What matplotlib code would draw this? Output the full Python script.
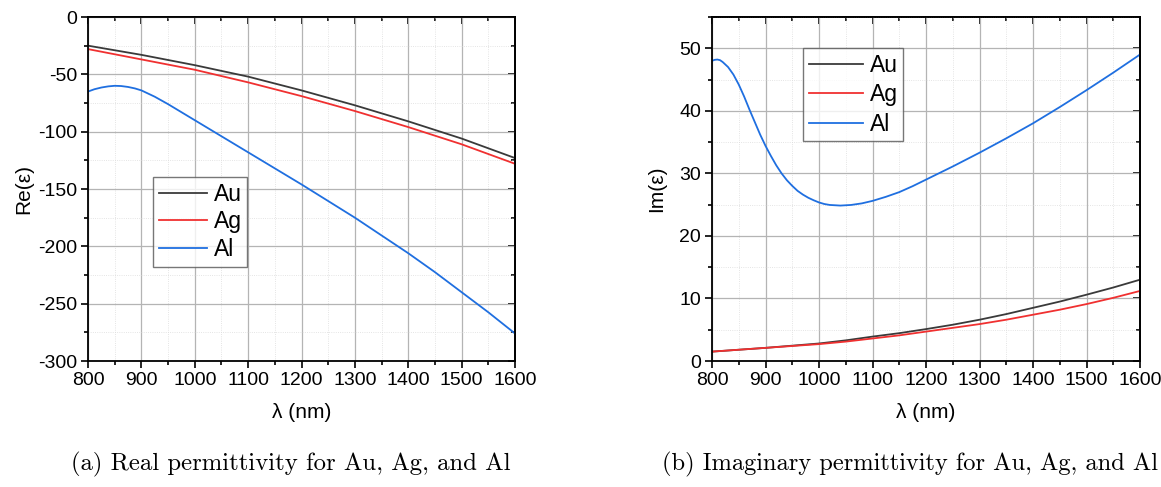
import numpy as np
import matplotlib
matplotlib.use('Agg')
import matplotlib.pyplot as plt
from matplotlib.ticker import MultipleLocator

# wavelengths (nm) and permittivity values
wl_re = [800, 850, 900, 950, 1000, 1050, 1100, 1150, 1200, 1250, 1300, 1350, 1400, 1450, 1500, 1550, 1600]
au_re = [-25, -29, -33, -37.5, -42, -47, -52, -58, -64, -70.5, -77, -84, -91, -98.5, -106, -114.5, -123]
ag_re = [-28, -32.5, -37, -41.5, -46, -51.5, -57, -63, -69, -75.5, -82, -89, -96, -103.5, -111, -119.5, -128]

wl_al_re = [800, 812, 825, 838, 850, 862, 875, 888, 900, 925, 950, 975, 1000, 1050, 1100, 1150, 1200, 1250, 1300,
            1350, 1400, 1450, 1500, 1550, 1600]
al_re = [-65, -63, -61.5, -60.5, -60, -60.2, -61, -62.3, -64, -69.5, -76, -83, -90, -104, -118, -132, -146, -160.5,
         -175, -190.5, -206, -222.5, -240, -257.5, -276]

wl_al_im = [800, 805, 810, 815, 820, 825, 830, 840, 850, 860, 870, 880, 890, 900, 910, 920, 930, 940, 950, 960, 970,
            980, 990, 1000, 1010, 1020, 1040, 1060, 1080, 1100, 1125, 1150, 1175, 1200, 1250, 1300, 1350, 1400, 1450,
            1500, 1550, 1600]
al_im = [48.0, 48.15, 48.2, 48.1, 47.8, 47.4, 47.0, 45.8, 44.2, 42.3, 40.2, 38.2, 36.2, 34.4, 32.8, 31.3, 30.0, 28.9,
         28.0, 27.2, 26.6, 26.1, 25.7, 25.35, 25.1, 24.95, 24.85, 24.95, 25.2, 25.6, 26.25, 27.0, 27.95, 29.0, 31.1,
         33.3, 35.6, 38.0, 40.6, 43.3, 46.1, 49.0]

wl_im = [800, 850, 900, 950, 1000, 1050, 1100, 1150, 1200, 1250, 1300, 1350, 1400, 1450, 1500, 1550, 1600]
au_im = [1.5, 1.8, 2.1, 2.45, 2.8, 3.3, 3.9, 4.45, 5.1, 5.8, 6.6, 7.5, 8.5, 9.5, 10.6, 11.75, 13.0]
ag_im = [1.5, 1.8, 2.1, 2.4, 2.7, 3.1, 3.6, 4.1, 4.7, 5.3, 5.9, 6.6, 7.4, 8.2, 9.1, 10.1, 11.2]

plt.rcParams['font.family'] = ['Liberation Sans', 'DejaVu Sans']
plt.rcParams['axes.unicode_minus'] = False

fig = plt.figure(figsize=(11.61, 4.87), dpi=100)
ax1 = fig.add_axes([88 / 1161, 1 - 361 / 487, 427 / 1161, 344 / 487])
ax2 = fig.add_axes([712 / 1161, 1 - 361 / 487, 428 / 1161, 344 / 487])

c_au, c_ag, c_al = '#3a3a3a', '#f03030', '#1f6fe0'


def style(ax, ymaj, ymin):
    ax.set_xlim(800, 1600)
    ax.xaxis.set_major_locator(MultipleLocator(100))
    ax.xaxis.set_minor_locator(MultipleLocator(50))
    ax.yaxis.set_major_locator(MultipleLocator(ymaj))
    ax.yaxis.set_minor_locator(MultipleLocator(ymin))
    ax.grid(which='major', color='#b4b4b4', lw=0.9)
    ax.grid(which='minor', color='#dcdcdc', lw=0.6, ls=':')
    ax.set_axisbelow(True)
    # outward ticks on bottom/left, inward mirrored ticks on top/right
    ax.tick_params(which='both', direction='out', labelsize=14, width=1.2)
    ax.tick_params(which='major', length=5, pad=3)
    ax.tick_params(which='minor', length=3)
    sx = ax.secondary_xaxis('top')
    sx.xaxis.set_major_locator(MultipleLocator(100))
    sx.xaxis.set_minor_locator(MultipleLocator(50))
    sx.tick_params(which='both', direction='in', labeltop=False, width=1.2)
    sx.tick_params(which='major', length=5)
    sx.tick_params(which='minor', length=3)
    sy = ax.secondary_yaxis('right')
    sy.yaxis.set_major_locator(MultipleLocator(ymaj))
    sy.yaxis.set_minor_locator(MultipleLocator(ymin))
    sy.tick_params(which='both', direction='in', labelright=False, width=1.2)
    sy.tick_params(which='major', length=5)
    sy.tick_params(which='minor', length=3)
    for a in (ax, sx, sy):
        for s in a.spines.values():
            s.set_linewidth(1.3)
    ax.set_xlabel('λ (nm)', fontsize=15, labelpad=10)


def legend(ax, anchor, hlen, lspace):
    leg = ax.legend(loc='upper left', bbox_to_anchor=anchor, fontsize=16.5, frameon=True, fancybox=False,
                    edgecolor='#555555', handlelength=hlen, handletextpad=0.3, borderpad=0.25, labelspacing=lspace,
                    borderaxespad=0)
    leg.get_frame().set_linewidth(1.0)


ax1.plot(wl_re, au_re, color=c_au, lw=1.3, label='Au')
ax1.plot(wl_re, ag_re, color=c_ag, lw=1.3, label='Ag')
ax1.plot(wl_al_re, al_re, color=c_al, lw=1.3, label='Al')
ax1.set_ylim(-300, 0)
style(ax1, 50, 25)
ax1.set_ylabel('Re(ε)', fontsize=15, labelpad=3)
legend(ax1, (0.152, 0.535), 2.1, 0.2)

ax2.plot(wl_im, au_im, color=c_au, lw=1.3, label='Au')
ax2.plot(wl_im, ag_im, color=c_ag, lw=1.3, label='Ag')
ax2.plot(wl_al_im, al_im, color=c_al, lw=1.3, label='Al')
ax2.set_ylim(0, 55)
style(ax2, 10, 5)
ax2.set_ylabel('Im(ε)', fontsize=15, labelpad=9)
legend(ax2, (0.213, 0.91), 2.35, 0.28)

fig.text(291 / 1161, 1 - 464 / 487, '(a) Real permittivity for Au, Ag, and Al', ha='center', va='center',
         family='cmr10', fontsize=17.8)
fig.text(1158 / 1161, 1 - 464 / 487, '(b) Imaginary permittivity for Au, Ag, and Al', ha='right', va='center',
         family='cmr10', fontsize=17.6)

fig.savefig('out.png', dpi=100)
